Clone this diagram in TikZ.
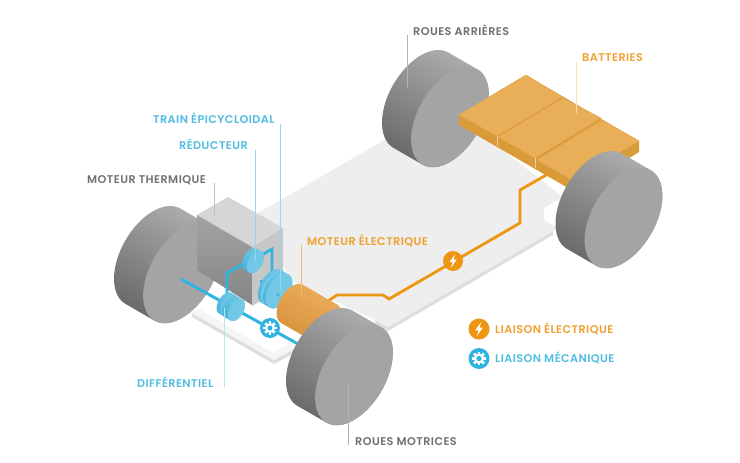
\documentclass[tikz,border=0pt]{standalone}
\usepackage{fontspec}
\setmainfont{Poppins}[UprightFont=* Medium,BoldFont=* SemiBold,LetterSpace=4]
\definecolor{grayLabel}{HTML}{707070}
\definecolor{blueLabel}{HTML}{4FBDE3}
\definecolor{orangeLabel}{HTML}{EFA02F}
\definecolor{orangeLink}{HTML}{EE9512}
\definecolor{blueLink}{HTML}{2FB4E0}
\definecolor{floorTop}{HTML}{EEEEEE}
\definecolor{floorEdge}{HTML}{DEDEDE}
\definecolor{tyreFace}{HTML}{A4A4A4}
\definecolor{tyreDark}{HTML}{6A6A6A}
\definecolor{tyreLight}{HTML}{ACACAC}
\definecolor{battTop}{HTML}{E8AF58}
\definecolor{battSide}{HTML}{D99A3A}
\definecolor{drumDark}{HTML}{4CB3DA}
\definecolor{drumLight}{HTML}{6CC6E6}
\definecolor{drumFace}{HTML}{72C8E6}
\definecolor{motorA}{HTML}{EBAE5E}
\definecolor{motorB}{HTML}{D9913A}
\tikzset{
 lbl/.style={font=\fontsize{11.2}{13}\selectfont\bfseries,anchor=base west,inner sep=0pt},
 wire/.style={line width=2.8pt,line join=miter},
 leader/.style={line width=.5pt},
 packTop/.style={fill=battTop,draw=battTop!70!battSide,line width=.4pt,line join=round},
}
% Cylinder lying along the car's transverse axis: centre of the outer face,
% radius, length, band colours (upper, lower) and options for the face.
\newcommand{\cyl}[7]{%
 \begin{scope}[shift={(#1,#2)},rotate=-30]
  \shade[top color=#5,bottom color=#6,shading angle=-30]
   plot[domain=-270:-90,samples=40] ({-#4+.577*#3*cos(\x)},{#3*sin(\x)})
   -- plot[domain=-90:90,samples=40] ({.577*#3*cos(\x)},{#3*sin(\x)}) -- cycle;
  \fill[#7] plot[domain=0:360,samples=60] ({.577*#3*cos(\x)},{#3*sin(\x)}) -- cycle;
 \end{scope}}
\newcommand{\tyre}[2]{\cyl{#1}{#2}{55}{33.6}{tyreLight}{tyreDark}{tyreFace}}
\newcommand{\drum}[4]{\cyl{#1}{#2}{#3}{#4}{drumLight}{drumDark}{drumFace}}
% Round link symbols
\newcommand{\bolticon}[4]{%
 \node[circle,fill=orangeLink,minimum size=#4*2pt,inner sep=0pt] (#1) at (#2,#3) {};
 \begin{scope}[shift={(#1)},scale=#4]
  \fill[white] (.22,-.68)--(-.36,.12)--(-.04,.12)--(-.2,.68)--(.36,-.14)--(.05,-.14)--cycle;
 \end{scope}}
\newcommand{\gearicon}[4]{%
 \node[circle,fill=blueLink,minimum size=#4*2pt,inner sep=0pt] (#1) at (#2,#3) {};
 \begin{scope}[shift={(#1)},scale=#4]
  \fill[white] (0,0) circle[radius=.48];
  \foreach \t in {0,45,...,315}
   \fill[white,rotate=\t] (-.13,.36) rectangle (.13,.66);
  \fill[blueLink] (0,0) circle[radius=.25];
 \end{scope}}
\begin{document}
\begin{tikzpicture}[x=1pt,y=-1pt]
\useasboundingbox (0,0) rectangle (740,463);
\fill[white] (0,0) rectangle (740,463);

% Chassis plate
\fill[floorEdge] (388,327)--(553,231)--(553,235)--(388,331)--(375,324)--(375,320)--cycle;
\fill[floorTop] (258,213)--(395,134)--(470,125)--(563,197)--(544,208)--(544,220)--(557,228)
  --(553,231)--(388,327)--(375,320)--(290,280)--cycle;

% Front sub-frame
\fill[floorEdge] (192,313)--(192,317)--(274,364)--(298,351)--(298,347)--(274,360)--cycle;
\fill[floorTop!60!white] (192,313)--(274,360)--(298,347)--(291,343)--(273,353)--(199,309)--cycle;

% Rear axle, left wheel
\tyre{450}{117}

% Battery packs
\fill[battSide] (459,115)--(526,75)--(639,141)--(639,152)--(575,192)--(459,125)--cycle;
\fill[packTop] (459,115)--(526,75)--(562,97)--(497,136)--cycle;
\fill[packTop] (498,137)--(563,98)--(601,118)--(535,158)--cycle;
\fill[packTop] (537,160)--(602,120)--(639,141)--(572,180)--cycle;
\draw[battTop!60!white,line width=.5pt] (497,136)--(497,146);
\draw[battTop!60!white,line width=.5pt] (535,158)--(535,168);

% Power line from the packs to the motor
\coordinate (wireBatt) at (548,174);
\coordinate (wireMotor) at (325,303);
\draw[wire,orangeLink] (wireBatt)--(520,190)--(520,223)--(389,299)--(383,295)--(337,295)--(wireMotor);
\bolticon{linkElec}{453}{261}{10}

% Rear axle, right wheel
\tyre{623.5}{218}

% Front axle, left wheel
\tyre{182}{273}

% Engine block
\fill[black!16] (197,215)--(228,197)--(283,228)--(252,247)--cycle;
\shade[top color=black!36,bottom color=black!48] (197,215)--(252,247)--(252,305)--(197,270)--cycle;
\fill[black!22] (252,247)--(283,228)--(283,288)--(252,306)--cycle;

% Drive shafts
\coordinate (shaftL) at (181,279);
\coordinate (shaftR) at (298,344);
\draw[line width=3pt,blueLink] (shaftL)--(shaftR);
\draw[line width=2.8pt,blueLink,line join=miter] (227,298)--(227,273)--(245,263);
\draw[line width=2.8pt,blueLink,line join=miter] (260,256)--(272,249)--(272,282);
\fill[blueLink] (260,280) rectangle +(4,5);

% Gear train
\drum{255.4}{262}{12.2}{5.5}
\drum{274}{288}{19}{3}
\drum{279}{291}{19}{3}
\fill[drumDark] (278,295) circle[radius=1.8];
\drum{229}{305.5}{12}{4.5}
\drum{236.5}{310}{12}{7}

% Mechanical link symbol
\gearicon{linkMech}{270}{328}{10}

% Electric motor, its far end hidden by the wheel
\cyl{326}{323.5}{22}{39}{motorA}{motorB}{opacity=0}

% Front axle, right wheel
\tyre{354}{375}

% Labels
\node[lbl,text=grayLabel] (lThermique) at (87,183) {MOTEUR THERMIQUE};
\node[lbl,text=blueLabel] (lTrain) at (153,123) {TRAIN ÉPICYCLOIDAL};
\node[lbl,text=blueLabel] (lReducteur) at (179,149) {RÉDUCTEUR};
\node[lbl,text=orangeLabel] (lMoteurE) at (307,245) {MOTEUR ÉLECTRIQUE};
\node[lbl,text=blueLabel] (lDiff) at (137,387) {DIFFÉRENTIEL};
\node[lbl,text=grayLabel] (lMotrices) at (355,445) {ROUES MOTRICES};
\node[lbl,text=grayLabel] (lArrieres) at (413,35) {ROUES ARRIÈRES};
\node[lbl,text=orangeLabel] (lBatt) at (582,61) {BATTERIES};
\node[lbl,text=orangeLabel] (lElec) at (495,333) {LIAISON ÉLECTRIQUE};
\node[lbl,text=blueLabel] (lMeca) at (495,362) {LIAISON MÉCANIQUE};
\bolticon{keyElec}{479}{329}{10.5}
\gearicon{keyMech}{479}{358.5}{10.5}

% Leader lines
\coordinate (aThermique) at (214,183); \coordinate (bThermique) at (214,215);
\coordinate (aTrain) at (280,124); \coordinate (bTrain) at (280,290);
\coordinate (aReducteur) at (255,150); \coordinate (bReducteur) at (255,262);
\coordinate (aMoteurE) at (301,245); \coordinate (bMoteurE) at (301,298);
\coordinate (aDiff) at (224,308); \coordinate (bDiff) at (224,387);
\coordinate (aMotrices) at (348,383); \coordinate (bMotrices) at (348,445);
\coordinate (aArrieres) at (407,35); \coordinate (bArrieres) at (407,88);
\coordinate (aBatt) at (576,62); \coordinate (bBatt) at (576,113);
\draw[leader,black!25] (aThermique)--(bThermique);
\draw[leader,blueLabel!60] (aTrain)--(bTrain);
\draw[leader,blueLabel!60] (aReducteur)--(bReducteur);
\draw[leader,orangeLabel!70] (aMoteurE)--(bMoteurE);
\draw[leader,blueLabel!40] (aDiff)--(bDiff);
\draw[leader,black!30] (aMotrices)--(bMotrices);
\draw[leader,black!30] (aArrieres)--(bArrieres);
\draw[leader,orangeLabel!35] (aBatt)--(bBatt);
\end{tikzpicture}
\end{document}
